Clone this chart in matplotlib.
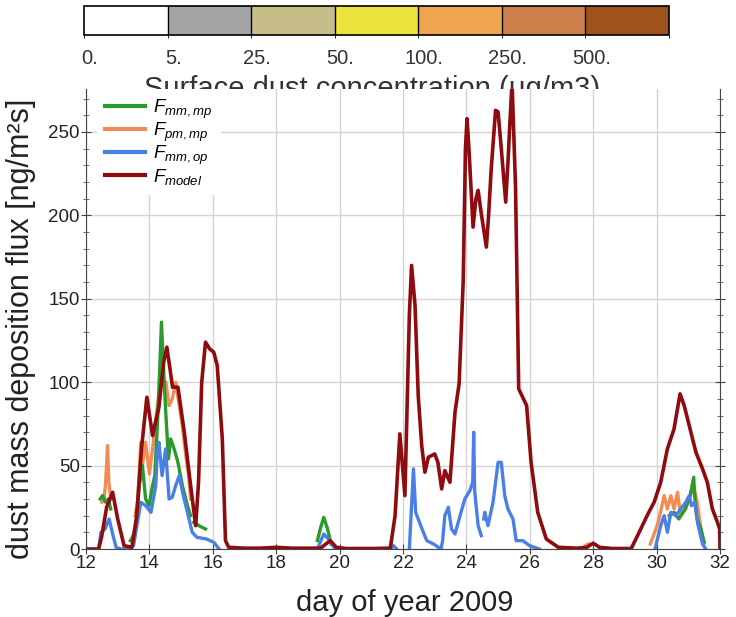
import numpy as np
import matplotlib
matplotlib.use("Agg")
import matplotlib.pyplot as plt
from matplotlib.colors import ListedColormap, BoundaryNorm
from matplotlib.cm import ScalarMappable
from matplotlib.patches import Rectangle

plt.rcParams["font.family"] = ["Liberation Sans", "DejaVu Sans"]
plt.rcParams["mathtext.fontset"] = "custom"
plt.rcParams["mathtext.rm"] = "Liberation Sans"
plt.rcParams["mathtext.it"] = "Liberation Sans:italic"

# ── colour scale (surface dust concentration)
conc_labels = ["0.", "5.", "25.", "50.", "100.", "250.", "500."]
conc_colors = ["#ffffff", "#a4a4a4", "#c6bd88", "#ece33e", "#efa54f", "#cd7f4b", "#9e521c"]

# ── F_model (dark red)
model_day = [12.0, 12.4, 12.5, 12.65, 12.84, 13.0, 13.2, 13.45, 13.6, 13.75, 13.92, 14.1, 14.3, 14.45,
             14.55, 14.65, 14.73, 14.9, 15.1, 15.3, 15.46, 15.55, 15.65, 15.77, 15.9, 16.03, 16.14, 16.3,
             16.4, 16.5, 17.0, 17.5, 18.0, 18.5, 19.0, 19.4, 19.7, 19.9, 20.2, 21.0, 21.6, 21.75, 21.9,
             22.06, 22.2, 22.27, 22.38, 22.48, 22.59, 22.69, 22.8, 23.0, 23.1, 23.22, 23.32, 23.48, 23.64,
             23.77, 23.9, 23.97, 24.02, 24.08, 24.21, 24.3, 24.37, 24.47, 24.63, 24.7, 24.78, 24.92,
             25.0, 25.07, 25.24, 25.32, 25.36, 25.44, 25.55, 25.65, 25.9, 26.04, 26.25, 26.52, 26.9,
             27.5, 27.8, 28.0, 28.2, 28.6, 29.2, 29.45, 29.7, 29.92, 30.13, 30.34, 30.55, 30.74, 30.87,
             31.03, 31.24, 31.45, 31.6, 31.76, 31.92, 31.99, 32.0]
model_val = [0, 0, 8, 25, 34, 18, 2, 1, 20, 60, 91, 68, 85, 112,
             121, 108, 97, 97, 70, 38, 14, 40, 100, 124, 120, 118, 110, 66,
             5, 1, 0.5, 0.5, 1, 0.5, 0.5, 0.5, 5, 1, 0.3, 0.3, 0.5, 20, 69,
             32, 140, 170, 146, 92, 62, 46, 55, 57, 52, 36, 47, 40, 82,
             99, 161, 240, 258, 240, 193, 210, 215, 201, 181, 200, 227, 263,
             262, 247, 208, 235, 251, 280, 217, 96, 86, 52, 22, 6, 1,
             0.5, 1, 3.5, 1, 0.3, 0.3, 10, 20, 28, 40, 60, 72, 93, 86,
             74, 58, 48, 40, 24, 16, 12, 0]

# ── F_mm,op (blue)
op_day = [12.4, 12.47, 12.6, 12.73, 12.84, 12.95, 13.1, 13.3, 13.5, 13.57, 13.73, 13.88, 14.05, 14.2,
          14.25, 14.3, 14.4, 14.51, 14.62, 14.72, 14.83, 14.94, 15.07, 15.2, 15.35, 15.5, 15.8, 16.03,
          16.2, np.nan, 19.3, 19.5, 19.7, 19.85, np.nan, 21.6, 21.7, 21.8, np.nan,
          22.2, 22.33, 22.4, 22.48, 22.6, 22.75, 22.96, 23.2, 23.25, 23.32, 23.43, 23.53, 23.64, 23.8,
          23.95, 24.11, 24.2, 24.23, 24.26, 24.37, 24.47, np.nan, 24.55, 24.58, 24.68, 24.84, 25.0,
          25.1, 25.21, 25.31, 25.47, 25.57, 25.78, 25.99, 26.3, np.nan,
          29.95, 30.13, 30.24, 30.34, 30.45, 30.6, 30.76, 30.92, 31.03, 31.1, 31.2, 31.3, 31.45, 31.55]
op_val = [0, 10, 12, 18, 9, 1, 0, 0, 2, 10, 28, 26, 22, 38,
          58, 64, 44, 60, 30, 31, 38, 44, 32, 22, 10, 7, 6, 4,
          0, np.nan, 0, 9, 5, 0, np.nan, 0, 2, 0, np.nan,
          0, 48, 22, 18, 12, 5, 3, 0, 5, 20, 25, 12, 9, 20,
          30, 35, 40, 70, 35, 14, 8, np.nan, 18, 22, 14, 28, 52,
          52, 32, 24, 18, 5, 5, 2, 0, np.nan,
          0, 14, 20, 10, 22, 20, 24, 28, 32, 26, 28, 15, 3, 0]

# ── F_mm,mp (green)
mmmp_day = [12.45, 12.52, 12.62, 12.7, 12.78, np.nan,
            13.4, 13.47, 13.57, 13.68, 13.78, 13.88, 13.99, 14.1, 14.17, 14.25, 14.33, 14.38, 14.44,
            14.51, 14.6, 14.67, 14.78, 14.9, 15.04, 15.2, 15.3, np.nan, 15.4, 15.56, 15.77, np.nan,
            19.3, 19.39, 19.5, 19.62, 19.73, np.nan,
            30.4, 30.55, 30.7, 30.9, 31.06, 31.17, 31.2, 31.28, 31.4, 31.5]
mmmp_val = [30, 32, 28, 30, 24, np.nan,
            5, 7, 13, 38, 50, 30, 26, 38, 44, 74, 110, 136, 110,
            84, 54, 66, 60, 52, 38, 26, 20, np.nan, 16, 14, 12, np.nan,
            5, 12, 19, 12, 3, np.nan,
            20, 22, 18, 24, 32, 43, 32, 18, 12, 4]

# ── F_pm,mp (orange)
pmmp_day = [12.5, 12.57, 12.62, 12.68, 12.72, 12.78, np.nan,
            13.55, 13.63, 13.73, 13.78, 13.88, 14.0, 14.1, 14.2, 14.36, 14.52, 14.62, 14.72, 14.83,
            14.94, 15.04, 15.15, 15.25, 15.3, np.nan, 27.75, 27.85, np.nan,
            29.8, 29.9, 30.05, 30.24, 30.34, 30.45, 30.55, 30.66, 30.76, 30.92, 31.06, 31.17, 31.28,
            31.4, 31.48]
pmmp_val = [28, 30, 40, 62, 40, 30, np.nan,
            20, 29, 64, 50, 64, 45, 60, 78, 102, 100, 86, 90, 100,
            86, 74, 56, 42, 30, np.nan, 2, 3, np.nan,
            3, 8, 16, 32, 24, 32, 24, 34, 20, 24, 32, 38, 28,
            12, 3]

x_ticks = list(range(12, 33, 2))
y_ticks = [0, 50, 100, 150, 200, 250]

W, H = 736, 617
fig = plt.figure(figsize=(W / 100, H / 100), dpi=100)
top_px = 89   # the plot panel starts here and hides whatever is under it

# colour bar
cax = fig.add_axes([84 / W, 1 - 35 / H, 585 / W, 29 / H])
cmap = ListedColormap(conc_colors)
norm = BoundaryNorm(np.arange(len(conc_colors) + 1), cmap.N)
cb = fig.colorbar(ScalarMappable(norm=norm, cmap=cmap), cax=cax,
                  orientation="horizontal", drawedges=True)
cb.set_ticks([])
cb.outline.set_linewidth(1.2)
cb.dividers.set_linewidth(1.0)
for i, lab in enumerate(conc_labels):
    fig.text((84 + (i + 0.07) * 585 / 7) / W, 1 - 59 / H, lab, ha="center", va="center",
             fontsize=14.5, color="#333333")
# label sits partly under the plot panel (drawn before it)
fig.text(372 / W, 1 - 97 / H, "Surface dust concentration (μg/m3)", ha="center",
         va="baseline", fontsize=21, color="#333333", zorder=-1)

# main panel
ax = fig.add_axes([86 / W, 1 - 549 / H, 634 / W, (549 - top_px) / H])
ax.plot(pmmp_day, pmmp_val, color="#f28c56", lw=2.4, label=r"$F_{pm,mp}$")
ax.plot(mmmp_day, mmmp_val, color="#2a9a2a", lw=2.4, label=r"$F_{mm,mp}$")
ax.plot(op_day, op_val, color="#4a7fe6", lw=2.4, label=r"$F_{mm,op}$")
ax.plot(model_day, model_val, color="#8e0b0f", lw=2.6, label=r"$F_{model}$")

ax.set_xlim(12, 32)
ax.set_ylim(0, (549 - top_px) / 83.4 * 50)
ax.set_xticks(x_ticks)
ax.set_yticks(y_ticks)
ax.set_yticks(np.arange(0, 280, 10), minor=True)
ax.tick_params(axis="both", which="major", labelsize=13.5, direction="inout",
               right=True, length=7, colors="#444444", labelcolor="#222222")
ax.tick_params(axis="y", which="minor", direction="inout", right=True, length=4, colors="#555555")
ax.tick_params(axis="x", pad=1)
ax.tick_params(axis="y", pad=1)
ax.grid(True, which="major", color="#d4d4d4", lw=1)
ax.spines["top"].set_visible(False)
for s in ["left", "right", "bottom"]:
    ax.spines[s].set_color("#444444")

handles, labels = ax.get_legend_handles_labels()
order = [1, 0, 2, 3]
leg = ax.legend([handles[i] for i in order], [labels[i] for i in order],
                loc="upper left", bbox_to_anchor=(11 / 634, 1.0), frameon=True,
                facecolor="white", edgecolor="none", framealpha=1, fancybox=False,
                fontsize=13.5, handlelength=2.1, labelspacing=0.0, borderaxespad=0,
                borderpad=0.45, handletextpad=0.45)
for h in leg.get_lines():
    h.set_linewidth(3)

fig.text(21 / W, 1 - 329 / H, "dust mass deposition flux [ng/m²s]", rotation=90,
         ha="center", va="center", fontsize=22, color="#222222")
# the top of the y label is cut where the colour-bar panel begins
fig.add_artist(Rectangle((0, 1 - top_px / H), 80 / W, 45 / H, transform=fig.transFigure,
                         facecolor="white", edgecolor="none", zorder=5))

fig.text(405 / W, 1 - 611 / H, "day of year 2009", ha="center", va="baseline",
         fontsize=21, color="#222222")

fig.savefig("out.png", dpi=100)
